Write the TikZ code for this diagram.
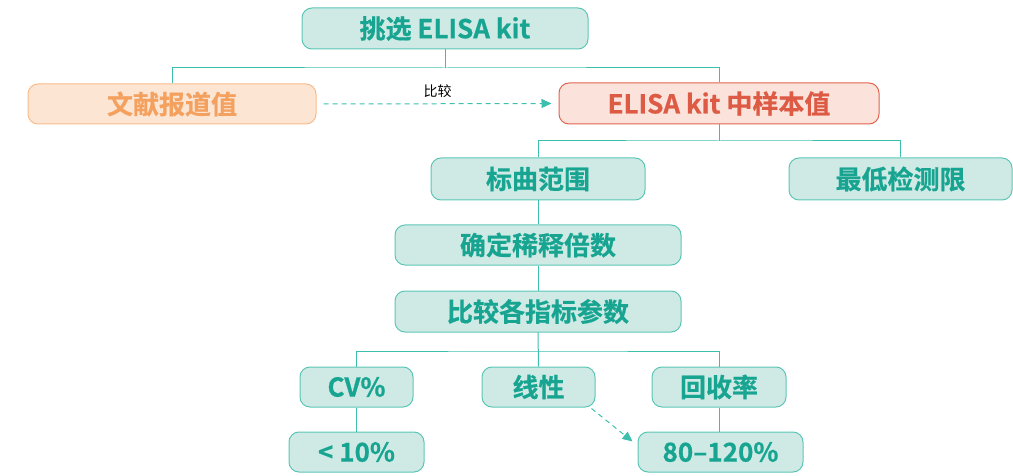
\documentclass[tikz,border=0pt]{standalone}
\usepackage{fontspec}
\setmainfont{Noto Sans CJK SC}[BoldFont={* Bold}, BoldFeatures={FakeBold=0.6}]
\usetikzlibrary{arrows.meta}
\definecolor{tealfill}{HTML}{CFEAE5}
\definecolor{tealdraw}{HTML}{5CC6B6}
\definecolor{tealtext}{HTML}{17A592}
\definecolor{tealline}{HTML}{3DBFAE}
\definecolor{orfill}{HTML}{FDE5D3}
\definecolor{ordraw}{HTML}{F8BC8C}
\definecolor{ortext}{HTML}{F4A160}
\definecolor{redfill}{HTML}{FBE3DC}
\definecolor{reddraw}{HTML}{E0644F}
\definecolor{redtext}{HTML}{DD5B45}
\tikzset{
  box/.style={draw=tealdraw, fill=tealfill, line width=1pt, rounded corners=10pt,
    text=tealtext, font=\bfseries\fontsize{26}{28}\selectfont, inner sep=0pt, anchor=center},
  obox/.style={box, draw=ordraw, fill=orfill, text=ortext},
  rbox/.style={box, draw=reddraw, fill=redfill, text=redtext},
  conn/.style={draw=tealline, line width=1pt},
  dconn/.style={draw=tealline, line width=1pt, dash pattern=on 5pt off 4pt, -{Triangle[length=10pt,width=9pt]}},
}
\begin{document}
\begin{tikzpicture}[x=1pt,y=-1pt]
\useasboundingbox (0,0) rectangle (1013,476);
\node[box, minimum width=286pt, minimum height=41pt] (top) at (445,28.5) {挑选 ELISA kit};
\node[obox, minimum width=288pt, minimum height=40pt] (lit) at (172,104) {文献报道值};
\node[rbox, minimum width=320pt, minimum height=41pt] (kit) at (719,103.5) {ELISA kit 中样本值};
\node[box, minimum width=214pt, minimum height=42pt] (std) at (538,179) {标曲范围};
\node[box, minimum width=223pt, minimum height=42pt] (lod) at (900.5,179) {最低检测限};
\node[box, minimum width=286pt, minimum height=40pt] (dil) at (538,245) {确定稀释倍数};
\node[box, minimum width=286pt, minimum height=41pt] (cmp) at (538,311.5) {比较各指标参数};
\node[box, minimum width=113pt, minimum height=40pt] (cv) at (356.5,387) {CV\%};
\node[box, minimum width=113pt, minimum height=40pt] (lin) at (538.5,387) {线性};
\node[box, minimum width=134pt, minimum height=40pt] (rec) at (719,387) {回收率};
\node[box, minimum width=135pt, minimum height=40pt] (cvv) at (356.5,452) {< 10\%};
\node[box, minimum width=165pt, minimum height=40pt] (recv) at (720.5,452) {80–120\%};
\coordinate (j1) at (445,68);
\draw[conn] (top.south) -- (j1);
\draw[conn] (lit.north) |- (j1) -| (kit.north);
\coordinate (j2) at (719,141);
\draw[conn] (kit.south) -- (j2);
\draw[conn] (std.north) |- (j2) -| (lod.north);
\draw[conn] (std.south) -- (dil.north);
\draw[conn] (dil.south) -- (cmp.north);
\coordinate (j3) at (538,351);
\draw[conn] (cmp.south) -- (lin.north);
\draw[conn] (cv.north) |- (j3) -| (rec.north);
\draw[conn] (cv.south) -- (cvv.north);
\draw[conn] (rec.south) -- (rec.south |- recv.north);
\draw[dconn] ([xshift=7pt]lit.east) -- node[above=2pt, text=black, font=\fontsize{14}{16}\selectfont] {比较} ([xshift=-7pt]kit.west);
\draw[dconn] ([xshift=-4pt,yshift=-1pt]lin.south east) -- ([xshift=-5pt,yshift=-10pt]recv.north west);
\end{tikzpicture}
\end{document}
